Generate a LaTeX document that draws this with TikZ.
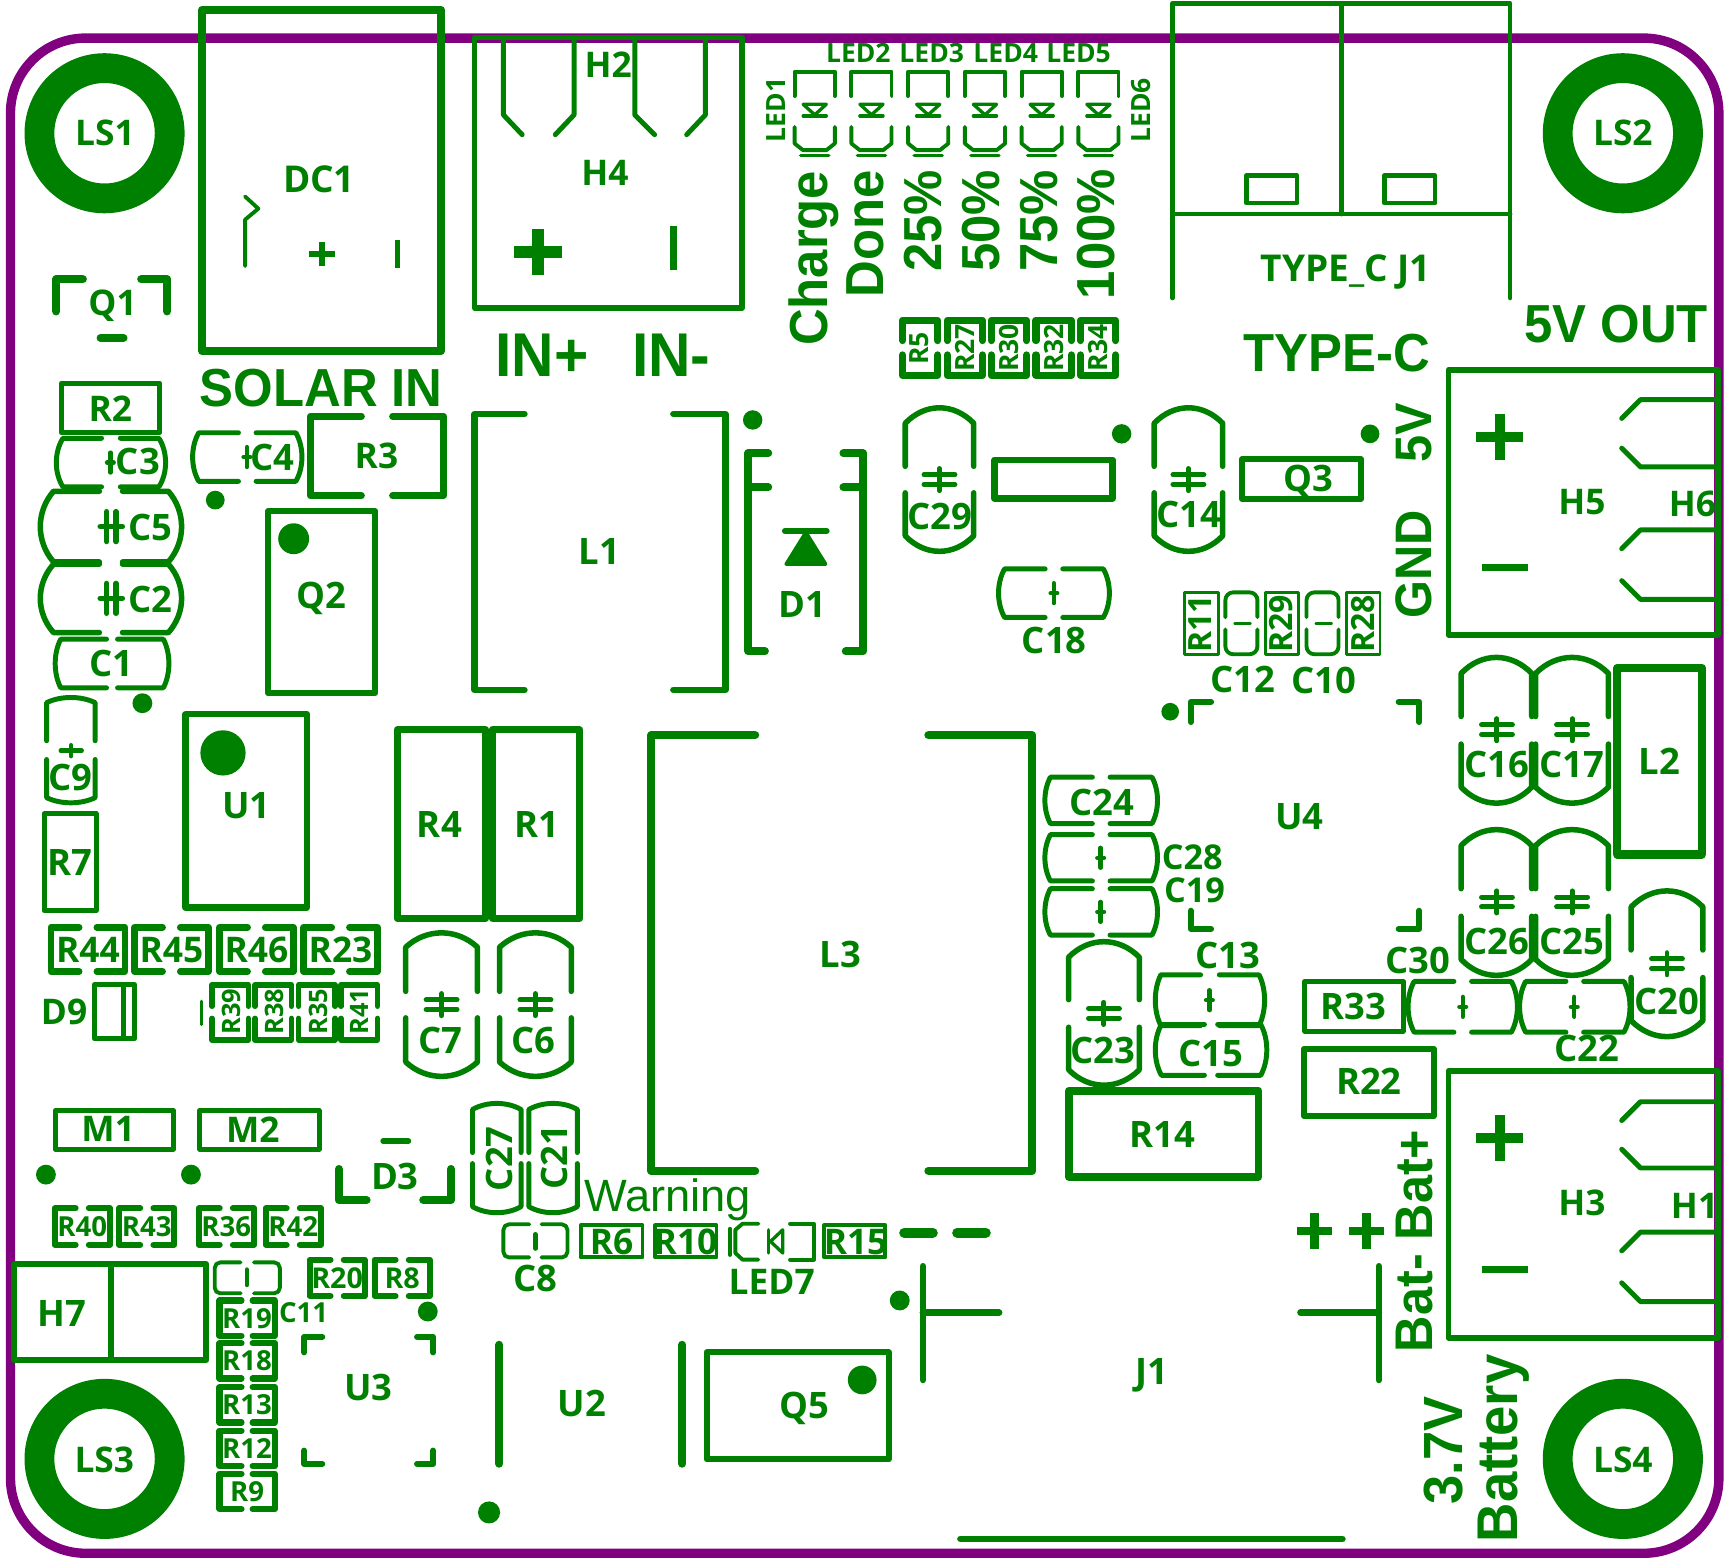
\documentclass[tikz,border=0pt]{standalone}
\usepackage{fontspec}
\setmainfont{Open Sans}
\newfontfamily\arialf{Liberation Sans}
\definecolor{sk}{HTML}{008000}
\definecolor{bd}{HTML}{800080}
\newcounter{tn}
\tikzset{
  skline/.style={draw=sk,line cap=round,line join=round},
  tx/.style={inner sep=0pt,outer sep=0pt,text=sk,text depth=0pt,anchor=center},
}
\newcommand\lab[4]{\stepcounter{tn}\node[tx,font=\fontsize{#3}{#3}\selectfont\bfseries] (t\arabic{tn}) at (#1,#2) {#4};}
\newcommand\rlab[4]{\stepcounter{tn}\node[tx,font=\fontsize{#3}{#3}\selectfont\bfseries] (t\arabic{tn}) at (#1,#2) {\rotatebox{90}{#4}};}
\newcommand\blab[4]{\stepcounter{tn}\node[tx,font=\fontsize{#3}{#3}\selectfont\arialf\bfseries] (t\arabic{tn}) at (#1,#2) {\scalebox{.95}[1]{#4}};}
\newcommand\brlab[4]{\stepcounter{tn}\node[tx,font=\fontsize{#3}{#3}\selectfont\arialf\bfseries] (t\arabic{tn}) at (#1,#2) {\rotatebox{90}{\scalebox{.95}[1]{#4}}};}
\newcommand\ring[2]{\draw[sk,line width=27pt] (#1,#2) circle (59pt);}
\newcommand\dotm[3]{\fill[sk] (#1,#2) circle (#3pt);}
% barrel curves: cubic arcs whose extreme lies #5 beyond the corners
\newcommand\capH[7]{\draw[skline,line width=#7pt] ({#1-#6},{#2-#4}) -- ({#1-#3},{#2-#4}) .. controls ({#1-#3-1.3333*#5},{#2-.42*#4}) and ({#1-#3-1.3333*#5},{#2+.42*#4}) .. ({#1-#3},{#2+#4}) -- ({#1-#6},{#2+#4});
 \draw[skline,line width=#7pt] ({#1+#6},{#2-#4}) -- ({#1+#3},{#2-#4}) .. controls ({#1+#3+1.3333*#5},{#2-.42*#4}) and ({#1+#3+1.3333*#5},{#2+.42*#4}) .. ({#1+#3},{#2+#4}) -- ({#1+#6},{#2+#4});}
\newcommand\capV[7]{\draw[skline,line width=#7pt] ({#1-#3},{#2-#6}) -- ({#1-#3},{#2-#4}) .. controls ({#1-.42*#3},{#2-#4-1.3333*#5}) and ({#1+.42*#3},{#2-#4-1.3333*#5}) .. ({#1+#3},{#2-#4}) -- ({#1+#3},{#2-#6});
 \draw[skline,line width=#7pt] ({#1-#3},{#2+#6}) -- ({#1-#3},{#2+#4}) .. controls ({#1-.42*#3},{#2+#4+1.3333*#5}) and ({#1+.42*#3},{#2+#4+1.3333*#5}) .. ({#1+#3},{#2+#4}) -- ({#1+#3},{#2+#6});}
\newcommand\resH[7][]{\draw[skline,line width=#7pt,#1] ({#2-#6},{#3-#5}) -- ({#2-#4},{#3-#5}) -- ({#2-#4},{#3+#5}) -- ({#2-#6},{#3+#5});
 \draw[skline,line width=#7pt,#1] ({#2+#6},{#3-#5}) -- ({#2+#4},{#3-#5}) -- ({#2+#4},{#3+#5}) -- ({#2+#6},{#3+#5});}
\newcommand\resV[7][]{\draw[skline,line width=#7pt,#1] ({#2-#4},{#3-#6}) -- ({#2-#4},{#3-#5}) -- ({#2+#4},{#3-#5}) -- ({#2+#4},{#3-#6});
 \draw[skline,line width=#7pt,#1] ({#2-#4},{#3+#6}) -- ({#2-#4},{#3+#5}) -- ({#2+#4},{#3+#5}) -- ({#2+#4},{#3+#6});}
\newcommand\boxm[5]{\draw[skline,line width=#5pt] (#1,#2) rectangle (#3,#4);}
% plate marks
\newcommand\mkH[2]{\draw[skline,line width=4.5pt] ({#1-14},{#2-4.4}) -- ({#1+14},{#2-4.4}) ({#1-14},{#2+4.4}) -- ({#1+14},{#2+4.4}) (#1,{#2-10}) -- (#1,{#2+10});}
\newcommand\mkV[2]{\draw[skline,line width=5pt] ({#1-4.2},{#2-13.5}) -- ({#1-4.2},{#2+13.5}) ({#1+4.2},{#2-13.5}) -- ({#1+4.2},{#2+13.5}) ({#1-10},#2) -- ({#1+10},#2);}
\newcommand\mkS[2]{\draw[skline,line width=4pt] (#1,{#2-9}) -- (#1,{#2+9}) ({#1-3},#2) -- ({#1+3},#2);}
\newcommand\ledV[1]{\draw[skline,line width=3.5pt] ({#1-18.2},87) -- ({#1-18.2},65) -- ({#1+18.2},65) -- ({#1+18.2},87);
 \draw[skline,line width=3.5pt] ({#1-18.2},115) -- ({#1-18.2},130) -- ({#1-10.6},136) -- ({#1+10.6},136) -- ({#1+18.2},130) -- ({#1+18.2},115);
 \draw[skline,line width=3pt] ({#1-12.8},141) -- ({#1+12.8},141);
 \draw[skline,line width=3pt] ({#1-10.5},105) -- ({#1+10.5},105);
 \draw[skline,line width=3pt] ({#1-10.5},94.5) -- ({#1+10.5},94.5) -- (#1,104) -- cycle;}
\newcommand\prong[3]{\draw[skline,line width=4.5pt] (1555,#1) -- (1486,#1) -- (1469,{#1+17});
 \draw[skline,line width=4.5pt] (1469,{#3-17}) -- (1486,#3) -- (1555,#3);}
\begin{document}
\begin{tikzpicture}[x=1pt,y=-1pt]
\useasboundingbox (0,0) rectangle (1568,1411);
\draw[bd,line width=8.5pt,rounded corners=68pt] (9.5,34.5) rectangle (1557,1407);
% mounting rings
\ring{94.7}{120.7} \ring{1470}{120.7} \ring{94.7}{1321.5} \ring{1470}{1321.5}
\lab{95}{120}{32}{LS1} \lab{1470}{120}{32}{LS2} \lab{94.5}{1322}{32}{LS3} \lab{1470}{1322}{32}{LS4}
% DC1
\boxm{183}{9}{399.5}{318}{7}
\draw[skline,line width=3.5pt] (222,178) -- (234,189) -- (222,199) -- (222,241);
\draw[sk,line width=5pt] (280,230) -- (303,230) (291.5,219) -- (291.5,241);
\draw[sk,line width=4.5pt] (360,217) -- (360,243);
\lab{289}{162}{33.5}{DC1}
\blab{291}{351}{48.5}{SOLAR IN}
% H4 H2
\boxm{430}{34}{672}{279}{5}
\draw[skline,line width=4.5pt] (456,36) -- (456,104) -- (473,122) (503,122) -- (520,104) -- (520,36);
\draw[skline,line width=4.5pt] (575,36) -- (575,104) -- (593,122) (622,122) -- (639,104) -- (639,36);
\lab{551}{59}{32}{H2} \lab{548}{157}{32}{H4}
\draw[sk,line width=11pt] (466,228) -- (509,228) (487.5,207) -- (487.5,249);
\draw[sk,line width=7pt] (610,205) -- (610,245);
\blab{491}{322}{56}{IN+} \blab{608}{322}{56}{IN-}
% Q1
\draw[skline,line width=7.5pt] (51,282) -- (51,253) -- (75,253);
\draw[skline,line width=7.5pt] (128,253) -- (151.5,253) -- (151.5,282);
\draw[skline,line width=7pt] (91,306) -- (112,306);
\lab{102}{274}{32}{Q1}
% left column
\boxm{55.5}{347}{144.5}{392}{4.5} \lab{100}{370}{32}{R2}
\capH{100.5}{419}{43.5}{22}{6}{8.5}{4.5} \mkS{100}{419} \lab{125}{418}{33}{C3}
\capH{224}{414}{44}{22}{5.5}{8}{4.5} \mkS{223.6}{414} \lab{247}{414}{33}{C4}
\resH{341.5}{413}{60.5}{36}{14}{6} \lab{341}{413}{32}{R3}
\dotm{195}{453}{8.5}
\capH{100.5}{477}{52}{32}{12}{10.5}{5} \mkV{100.8}{477} \lab{136}{478}{33}{C5}
\capH{100.5}{542}{52}{31}{12}{10.5}{5} \mkV{100.8}{542} \lab{136}{543}{33}{C2}
\capH{101.5}{601}{46.5}{22}{5}{5}{4.5} \lab{101}{601}{33}{C1}
\dotm{129}{637}{9}
\capV{64.2}{679.5}{22}{43}{4.7}{8.5}{4.5} \draw[skline,line width=4pt] (55,680) -- (74,680) (64.4,675) -- (64.4,685); \lab{64}{704}{33}{C9}
\boxm{40}{737}{87}{825}{4.5} \lab{63}{781}{33}{R7}
\boxm{243}{463}{340}{628}{5.5} \dotm{266}{488}{14} \lab{291}{539}{33}{Q2}
\boxm{168}{647}{278}{822}{5.5} \dotm{202}{682}{20.5} \lab{223}{730}{33}{U1}
\boxm{360}{661}{440}{832}{6.5} \lab{398}{747}{33}{R4}
\boxm{446}{661}{525}{832}{6.5} \lab{486}{747}{33}{R1}
% R44 row
\resH{79.7}{860}{33.5}{20}{8}{6} \lab{79.7}{860.5}{32}{R44}
\resH{155.3}{860}{33.5}{20}{8}{6} \lab{155.3}{860.5}{32}{R45}
\resH{232.3}{860}{33.5}{20}{8}{6} \lab{232.3}{860.5}{32}{R46}
\resH{308.5}{860}{33.5}{20}{8}{6} \lab{308.5}{860.5}{32}{R23}
\boxm{85.5}{892}{122}{941}{4.5} \draw[sk,line width=5pt] (112,892) -- (112,941); \lab{58}{916.5}{32}{D9}
\draw[skline,line width=3pt] (182.7,907) -- (182.7,928);
\resV{208.5}{917}{16.5}{25}{5.5}{5} \rlab{209.7}{916.5}{23}{R39}
\resV{247.5}{917}{16.5}{25}{5.5}{5} \rlab{248.5}{916.5}{23}{R38}
\resV{287}{917}{16.5}{25}{5.5}{5} \rlab{288}{916.5}{23}{R35}
\resV{325.5}{917}{16.5}{25}{5.5}{5} \rlab{325.5}{916.5}{23}{R41}
\capV{400}{910}{32.5}{52}{13}{12}{5} \mkH{400}{910} \lab{398.6}{942}{33}{C7}
\capV{485}{910}{32.5}{52}{13}{12}{5} \mkH{485}{910} \lab{483.5}{942}{33}{C6}
% L1 D1
\draw[skline,line width=6pt] (475,375) -- (430,375) -- (430,625) -- (475,625);
\draw[skline,line width=6pt] (610,375) -- (657,375) -- (657,625) -- (610,625);
\lab{543}{500}{33}{L1}
\dotm{681.8}{380.4}{8.8}
\draw[skline,line width=7pt] (696,410.6) -- (677.8,410.6) -- (677.8,590) -- (693,590);
\draw[skline,line width=7pt] (763.9,410.6) -- (782,410.6) -- (782,590) -- (766,590);
\draw[skline,line width=7pt] (677.8,441.4) -- (696,441.4) (763.9,441.4) -- (782,441.4);
\draw[skline,fill=sk,line width=3pt] (712,511) -- (748,511) -- (730,482) -- cycle;
\draw[skline,line width=5.5pt] (711,481) -- (748.8,481);
\lab{727}{548}{33}{D1}
% LEDs
\ledV{738} \ledV{789.4} \ledV{840.8} \ledV{892.2} \ledV{943.6} \ledV{995}
\rlab{703}{99.6}{24}{LED1} \rlab{1033.5}{100}{24}{LED6}
\lab{777.5}{48.3}{24}{LED2} \lab{844}{48.3}{24}{LED3} \lab{911}{48.3}{24}{LED4} \lab{977}{48.3}{24}{LED5}
\brlab{736.7}{234}{48.5}{Charge} \brlab{784}{211.5}{48.5}{Done}
\brlab{836}{200}{48.5}{25\%} \brlab{889}{200}{48.5}{50\%} \brlab{941}{200}{48.5}{75\%} \brlab{993}{212}{48.5}{100\%}
\resV{833.5}{315}{16}{25}{6.5}{6.5} \rlab{833}{315.5}{24}{R5}
\resV{874}{315}{16}{25}{6.5}{6.5} \rlab{874}{315}{24}{R27}
\resV{914}{315}{16}{25}{6.5}{6.5} \rlab{914}{315}{24}{R30}
\resV{954.5}{315}{16}{25}{6.5}{6.5} \rlab{954.5}{315}{24}{R32}
\resV{994.7}{315}{16}{25}{6.5}{6.5} \rlab{994.7}{315}{24}{R34}
% TYPE-C
\draw[skline,line width=4pt] (1062,270) -- (1062,3) -- (1368,3) -- (1368,270);
\draw[skline,line width=4pt] (1062,194) -- (1368,194) (1215,3) -- (1215,194);
\boxm{1129}{159}{1175}{184}{4} \boxm{1254}{159}{1300}{184}{4}
\lab{1219}{243}{33.5}{TYPE\_C J1}
\blab{1211}{320}{48.5}{TYPE-C} \blab{1464}{293}{48.5}{5V OUT}
\brlab{1281}{392}{46.5}{5V} \brlab{1281}{511}{46.5}{GND}
% Q3 section
\boxm{901}{416.6}{1008}{451.4}{6} \dotm{1016}{393}{8.8}
\boxm{1125}{416}{1233}{452}{5} \lab{1185}{433}{33}{Q3} \dotm{1241}{393}{8.5}
\capV{851}{434.4}{31}{51}{14}{12}{5} \mkH{851}{434.4} \lab{851.5}{467.5}{33}{C29}
\capV{1076.5}{434.4}{31}{51}{14}{12}{5} \mkH{1076.5}{434.4} \lab{1077}{466}{33}{C14}
\capH{954.7}{537.3}{44.7}{22}{5.5}{8}{4.5} \mkS{954.7}{537.3} \lab{955}{579.7}{33}{C18}
% H5 H6
\boxm{1312}{335}{1556}{575}{5}
\draw[sk,line width=9pt] (1337,396) -- (1380,396) (1358.5,375) -- (1358.5,417);
\draw[sk,line width=7pt] (1342,514) -- (1384,514);
\prong{362}{0}{423} \prong{480}{0}{543}
\lab{1433}{455}{32}{H5} \lab{1533}{456}{32}{H6}
% small right group
\boxm{1073}{537}{1104}{593}{2.5} \rlab{1087}{565}{29}{R11}
\boxm{1146}{537}{1176}{593}{2.5} \rlab{1160}{565}{29}{R29}
\boxm{1220}{537}{1250}{593}{2.5} \rlab{1235}{565}{29}{R28}
\resV[rounded corners=7pt]{1124.5}{564.6}{14.5}{28}{5.5}{3.5} \draw[skline,line width=3.5pt] (1119,564.8) -- (1132,564.8); \lab{1125.6}{615.6}{33}{C12}
\resV[rounded corners=7pt]{1198}{564.6}{14.5}{28}{5.5}{3.5} \draw[skline,line width=3.5pt] (1192.5,564.8) -- (1205.5,564.8); \lab{1199}{616}{33}{C10}
% U4
\dotm{1060}{644.7}{8}
\draw[skline,line width=5.5pt] (1078.6,654) -- (1078.6,635.6) -- (1097,635.6) (1267,635.6) -- (1285.7,635.6) -- (1285.7,654);
\draw[skline,line width=5.5pt] (1078.6,825) -- (1078.6,841.4) -- (1097,841.4) (1267,841.4) -- (1285.7,841.4) -- (1285.7,825);
\lab{1177}{739.5}{33}{U4}
\capV{1355.5}{661.5}{32}{51.5}{14.5}{12.5}{5} \mkH{1356}{661} \lab{1356}{692}{33}{C16}
\capV{1424}{661.5}{33}{51.5}{14.5}{12.5}{5} \mkH{1424}{661} \lab{1424}{692}{33}{C17}
\capV{1355.5}{817.5}{32}{51.5}{14.5}{12.5}{5} \mkH{1356}{817} \lab{1356}{853}{33}{C26}
\capV{1424}{817.5}{33}{51.5}{14.5}{12.5}{5} \mkH{1424}{817} \lab{1424}{853}{33}{C25}
\capV{1510}{873}{32.5}{51.5}{14.5}{12.5}{5} \mkH{1510}{873} \lab{1510}{907}{33}{C20}
\boxm{1465}{605}{1541.5}{774}{7.5} \lab{1503}{690}{33}{L2}
\capH{997.5}{725}{46}{21}{5}{8}{4.5} \lab{998}{727}{33}{C24}
\capH{997.5}{777}{46}{21}{5}{8}{4.5} \mkS{997}{777} \lab{1080}{776}{31}{C28}
\capH{997.5}{826}{46}{21}{5}{8}{4.5} \mkS{997}{826} \lab{1082}{806}{31}{C19}
\capV{1000}{918}{32}{51}{14}{12.5}{5} \mkH{1000}{918} \lab{999}{951}{33}{C23}
\capH{1096}{906}{44.5}{23}{5}{8.5}{4.5} \mkS{1095.5}{906} \lab{1112}{865.6}{33}{C13}
\capH{1097}{951}{45}{23}{5.5}{6}{4.5} \lab{1097}{953.7}{33}{C15}
\capH{1325}{912}{44}{23}{5.5}{8}{4.5} \mkS{1325}{912} \lab{1284}{869.5}{33}{C30}
\capH{1426.5}{912}{44.5}{23}{5.5}{8}{4.5} \mkS{1426}{912} \lab{1437}{950}{33}{C22}
\boxm{1182}{889}{1271}{934}{4.5} \lab{1226}{911.6}{33}{R33}
\boxm{1181}{950}{1299}{1011}{5} \lab{1240}{979.5}{33}{R22}
\boxm{968}{988}{1140}{1066}{7} \lab{1053}{1028}{33}{R14}
% L3
\draw[skline,line width=7.5pt] (684,666) -- (590,666) -- (590,1060.5) -- (684,1060.5);
\draw[skline,line width=7.5pt] (841,666) -- (935,666) -- (935,1060.5) -- (841,1060.5);
\lab{761}{864}{33}{L3}
% H3 H1
\boxm{1312}{970}{1556}{1212}{5}
\draw[sk,line width=9pt] (1337,1031) -- (1380,1031) (1358.5,1010) -- (1358.5,1052);
\draw[sk,line width=7pt] (1342,1150) -- (1384,1150);
\prong{998}{0}{1058} \prong{1116}{0}{1179}
\lab{1433}{1089}{32}{H3} \lab{1535}{1092}{32}{H1}
\brlab{1281}{1124}{48}{Bat- Bat+}
\brlab{1308}{1314}{50}{3.7V} \brlab{1362.5}{1312}{52}{Battery}
% bottom left
\boxm{50}{1006}{157}{1041}{4.5} \lab{98}{1023}{32}{M1}
\boxm{181}{1006}{289}{1041}{4.5} \lab{229}{1023}{32}{M2}
\dotm{41.6}{1064}{9} \dotm{173}{1064}{9}
\resH{74.5}{1111}{25}{16.5}{6}{5.5} \lab{74.5}{1111}{25}{R40}
\resH{133}{1111}{25}{16.5}{6}{5.5} \lab{133}{1111}{25}{R43}
\resH{205}{1111}{25}{16.5}{6}{5.5} \lab{205}{1111}{25}{R36}
\resH{265.6}{1111}{25}{16.5}{6}{5.5} \lab{265.6}{1111}{25}{R42}
\boxm{13}{1145}{187}{1232}{5.5} \draw[sk,line width=5.5pt] (100.5,1145) -- (100.5,1232); \lab{56}{1190}{33}{H7}
\resH[rounded corners=5pt]{224}{1157.5}{29.5}{14}{6}{3.5} \draw[skline,line width=4pt] (223.6,1150) -- (223.6,1164); \lab{275}{1188.7}{25}{C11}
\resH{305.4}{1157.5}{25}{16.5}{6}{5.5} \lab{305.4}{1157.5}{26}{R20}
\resH{364.3}{1157.5}{25}{16.5}{6}{5.5} \lab{364.3}{1157.5}{26}{R8}
\resH{223.8}{1194}{25}{16}{5}{5.5} \lab{223.8}{1194}{25}{R19}
\resH{223.8}{1232.7}{25}{16}{5}{5.5} \lab{223.8}{1232.7}{25}{R18}
\resH{223.8}{1272.5}{25}{16}{5}{5.5} \lab{223.8}{1272.5}{25}{R13}
\resH{223.8}{1312}{25}{16}{5}{5.5} \lab{223.8}{1312}{25}{R12}
\resH{223.8}{1351}{25}{16}{5}{5.5} \lab{223.8}{1351}{25}{R9}
\dotm{387.5}{1188}{9}
\draw[skline,line width=5.5pt] (275.6,1225) -- (275.6,1211) -- (291.9,1211) (377.8,1211) -- (392.4,1211) -- (392.4,1225);
\draw[skline,line width=5.5pt] (275.6,1314) -- (275.6,1326) -- (291.9,1326) (377.8,1326) -- (392.4,1326) -- (392.4,1314);
\lab{333.8}{1257}{33}{U3}
% D3
\draw[skline,line width=5pt] (347,1033.6) -- (370,1033.6);
\draw[skline,line width=7.5pt] (307,1059) -- (307,1087) -- (332,1087);
\draw[skline,line width=7.5pt] (383.5,1087) -- (408.5,1087) -- (408.5,1059);
\lab{357.7}{1065.3}{33}{D3}
% C27 C21
\capV{450}{1049}{22}{44}{5.5}{5}{4.5} \rlab{452}{1049.5}{33}{C27}
\capV{501}{1049}{22}{44}{5.5}{5}{4.5} \rlab{502.6}{1048}{33}{C21}
% U2 Q5
\draw[skline,line width=7pt] (452.3,1218) -- (452.3,1326);
\draw[skline,line width=7pt] (618,1218) -- (618,1326);
\dotm{443}{1370}{10} \lab{527}{1271}{33}{U2}
\boxm{640}{1225}{805}{1322}{5.5} \dotm{781}{1250}{13} \lab{729}{1273}{33}{Q5}
% Warning row
\stepcounter{tn}\node[tx,font=\fontsize{41}{41}\selectfont\arialf] (t\arabic{tn}) at (604.6,1083) {Warning};
\resH[rounded corners=5pt]{485}{1124}{29}{15}{5.5}{3.5} \draw[skline,line width=4pt] (485,1118) -- (485,1131); \lab{485}{1158}{33}{C8}
\boxm{526}{1110}{582}{1139}{3.5} \lab{554}{1125}{32}{R6}
\boxm{593.5}{1110}{649}{1139}{3.5} \lab{621}{1125}{32}{R10}
\boxm{746.5}{1110}{802}{1139}{3.5} \lab{775}{1125}{32}{R15}
\draw[skline,line width=3.5pt] (661.3,1113) -- (661.3,1136.8);
\draw[skline,line width=3.5pt] (687,1108.5) -- (672.6,1108.5) -- (666.1,1114) -- (666.1,1135) -- (672.6,1141) -- (687,1141);
\draw[skline,line width=3.5pt] (715.6,1108.5) -- (737.3,1108.5) -- (737.3,1141) -- (715.6,1141);
\draw[skline,line width=3pt] (696.4,1114) -- (696.4,1135);
\draw[skline,line width=3pt] (709,1114) -- (709,1135) -- (698,1124.5) -- cycle;
\lab{699}{1161}{32}{LED7}
% J1
\draw[skline,line width=9pt] (819,1116.6) -- (845,1116.6) (867,1116.6) -- (893,1116.6);
\draw[sk,line width=8pt] (1175,1115) -- (1207,1115) (1191,1099) -- (1191,1131);
\draw[sk,line width=8pt] (1222,1115) -- (1254,1115) (1238,1099) -- (1238,1131);
\dotm{815}{1178}{9}
\draw[skline,line width=6pt] (836,1147) -- (836,1250) (836,1189) -- (905,1189);
\draw[skline,line width=6pt] (1249,1147) -- (1249,1250) (1178,1189) -- (1249,1189);
\draw[skline,line width=6pt] (870,1394) -- (1216,1394);
\lab{1043}{1242}{33}{J1}
\end{tikzpicture}
\end{document}
